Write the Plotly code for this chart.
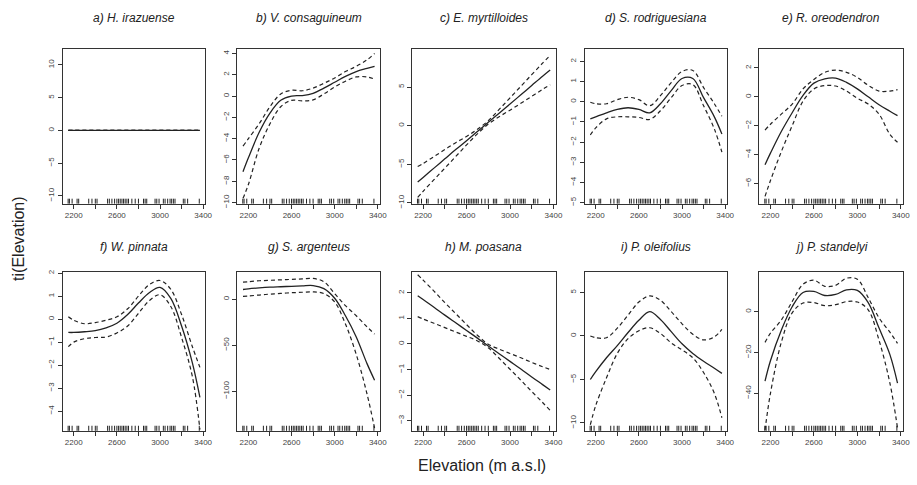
import plotly.graph_objects as go

# ---------------- data ----------------
elev = [2150, 2200, 2300, 2400, 2500, 2600, 2700, 2800, 2900, 3000, 3100, 3200, 3300, 3370]

titles = ["a) H. irazuense", "b) V. consaguineum", "c) E. myrtilloides", "d) S. rodriguesiana",
          "e) R. oreodendron", "f) W. pinnata", "g) S. argenteus", "h) M. poasana",
          "i) P. oleifolius", "j) P. standelyi"]

fit_a = [0, 0, 0, 0, 0, 0, 0, 0, 0, 0, 0, 0, 0, 0]
up_a = [0, 0, 0, 0, 0, 0, 0, 0, 0, 0, 0, 0, 0, 0]
lo_a = [0, 0, 0, 0, 0, 0, 0, 0, 0, 0, 0, 0, 0, 0]

fit_b = [-7.1, -5.8, -3.4, -1.6, -0.4, 0.0, 0.05, 0.25, 0.75, 1.3, 1.85, 2.3, 2.6, 2.8]
up_b = [-4.7, -4.0, -2.6, -1.0, 0.2, 0.55, 0.5, 0.75, 1.2, 1.7, 2.3, 2.8, 3.4, 4.0]
lo_b = [-9.6, -8.3, -4.9, -2.6, -1.0, -0.4, -0.45, -0.35, 0.2, 0.85, 1.4, 1.8, 1.8, 1.6]

fit_c = [-7.3, -6.7, -5.5, -4.3, -3.1, -1.95, -0.76, 0.43, 1.62, 2.8, 4.0, 5.2, 6.4, 7.2]
up_c = [-5.3, -4.9, -4.0, -3.1, -2.2, -1.4, -0.46, 0.65, 2.1, 3.6, 5.1, 6.6, 8.1, 9.1]
lo_c = [-9.3, -8.5, -7.0, -5.5, -4.0, -2.5, -1.06, 0.21, 1.16, 2.0, 2.9, 3.8, 4.7, 5.3]

fit_d = [-0.85, -0.75, -0.55, -0.38, -0.3, -0.38, -0.55, -0.1, 0.55, 1.15, 1.15, 0.2, -0.75, -1.6]
up_d = [-0.03, -0.1, -0.1, 0.1, 0.22, 0.1, -0.2, 0.3, 0.95, 1.5, 1.55, 0.7, -0.1, -0.72]
lo_d = [-1.65, -1.3, -0.85, -0.75, -0.75, -0.78, -0.88, -0.45, 0.2, 0.8, 0.85, -0.2, -1.35, -2.5]

fit_e = [-4.7, -3.9, -2.4, -1.1, 0.1, 0.95, 1.25, 1.3, 1.0, 0.55, 0.0, -0.55, -1.0, -1.3]
up_e = [-2.3, -1.9, -1.2, -0.5, 0.55, 1.2, 1.7, 1.85, 1.7, 1.35, 0.8, 0.4, 0.4, 0.5]
lo_e = [-6.9, -5.8, -3.8, -2.0, -0.3, 0.55, 0.78, 0.75, 0.4, -0.1, -0.5, -1.2, -2.6, -3.15]

fit_f = [-0.58, -0.58, -0.55, -0.5, -0.38, -0.18, 0.2, 0.7, 1.15, 1.38, 0.9, -0.3, -1.9, -3.4]
up_f = [0.1, -0.05, -0.2, -0.15, -0.05, 0.1, 0.45, 1.0, 1.5, 1.68, 1.3, 0.2, -1.2, -2.1]
lo_f = [-1.2, -1.0, -0.85, -0.8, -0.78, -0.6, -0.3, 0.25, 0.8, 1.06, 0.55, -0.8, -2.5, -4.8]

fit_g = [10.5, 11.2, 12.2, 13, 13.5, 14, 14.5, 14.8, 11.5, 1, -18, -41, -70, -88]
up_g = [18.5, 19, 20, 20.5, 21, 21.5, 22, 22.5, 19, 6, -7, -18, -30, -38]
lo_g = [3, 3.5, 4.5, 5.5, 6.3, 7, 7.5, 8, 6, -3, -27, -60, -103, -140]

fit_h = [1.89, 1.74, 1.44, 1.13, 0.83, 0.53, 0.23, -0.08, -0.38, -0.68, -0.98, -1.29, -1.59, -1.8]
up_h = [2.71, 2.5, 2.07, 1.62, 1.19, 0.76, 0.34, -0.01, -0.2, -0.37, -0.54, -0.72, -0.89, -1.0]
lo_h = [1.07, 0.98, 0.81, 0.64, 0.47, 0.3, 0.12, -0.15, -0.56, -0.99, -1.42, -1.86, -2.29, -2.6]

fit_i = [-5.0, -4.1, -2.5, -1.1, 0.4, 1.8, 2.8, 1.9, 0.5, -0.9, -2.0, -2.9, -3.7, -4.3]
up_i = [0.0, -0.2, -0.2, 0.9, 2.4, 3.9, 4.6, 4.1, 2.8, 1.4, 0.2, -0.45, -0.1, 0.75]
lo_i = [-10.2, -8.0, -4.8, -2.0, -0.3, 0.6, 0.95, 0.3, -0.8, -1.6, -2.5, -4.2, -6.6, -9.4]

fit_j = [-34, -24, -9, 2.5, 9.5, 10, 8, 8.5, 10.8, 10.5, 4.5, -8, -21, -35]
up_j = [-15, -10.5, -4, 5, 13.5, 15.5, 12.5, 13, 16.5, 16, 7, -3, -10, -15.5]
lo_j = [-58, -40, -15, -0.5, 4.3, 4.5, 3, 3.5, 5, 4.8, 1, -14, -35, -57]

fits = [fit_a, fit_b, fit_c, fit_d, fit_e, fit_f, fit_g, fit_h, fit_i, fit_j]
uppers = [up_a, up_b, up_c, up_d, up_e, up_f, up_g, up_h, up_i, up_j]
lowers = [lo_a, lo_b, lo_c, lo_d, lo_e, lo_f, lo_g, lo_h, lo_i, lo_j]

yranges = [[-11.2, 12.4], [-10.1, 4.4], [-10.1, 9.9], [-5.05, 2.6], [-7.4, 3.3],
           [-4.86, 2.03], [-143, 29], [-3.4, 2.8], [-10.9, 7.3], [-58.4, 19.3]]
yticks = [[-10, -5, 0, 5, 10], [-10, -8, -6, -4, -2, 0, 2, 4], [-10, -5, 0, 5],
          [-5, -4, -3, -2, -1, 0, 1, 2], [-6, -4, -2, 0, 2], [-4, -3, -2, -1, 0, 1, 2],
          [-100, -50, 0], [-3, -2, -1, 0, 1, 2], [-10, -5, 0, 5], [-40, -20, 0]]

xtick_vals = [2200, 2400, 2600, 2800, 3000, 3200, 3400]
xtick_text = ["2200", "", "2600", "", "3000", "", "3400"]

rug = [2148, 2160, 2185, 2231, 2246, 2339, 2369, 2400, 2416, 2514, 2530, 2554, 2579, 2600,
       2616, 2631, 2647, 2662, 2677, 2693, 2708, 2739, 2770, 2800, 2847, 2862, 2877, 2954,
       2970, 2991, 3031, 3047, 3071, 3093, 3108, 3124, 3139, 3216, 3231, 3256, 3364]

# ---------------- layout ----------------
W, H = 917, 485
col_px = [(63, 207), (239, 383), (415, 560), (589, 733), (765, 910)]
row_px = [(47, 204), (274, 435)]

fig = go.Figure()
LINE = "#222222"

for k in range(10):
    r, c = divmod(k, 5)
    n = k + 1
    xa = "x" if n == 1 else f"x{n}"
    ya = "y" if n == 1 else f"y{n}"
    xl = "xaxis" if n == 1 else f"xaxis{n}"
    yl = "yaxis" if n == 1 else f"yaxis{n}"
    x0, x1 = col_px[c]
    t0, t1 = row_px[r]
    fig.add_trace(go.Scatter(x=elev, y=fits[k], mode="lines", xaxis=xa, yaxis=ya,
                             line=dict(color=LINE, width=1.3, shape="spline", smoothing=1.0),
                             showlegend=False, hoverinfo="skip"))
    for band in (uppers[k], lowers[k]):
        fig.add_trace(go.Scatter(x=elev, y=band, mode="lines", xaxis=xa, yaxis=ya,
                                 line=dict(color=LINE, width=1.2, dash="4px,3px",
                                           shape="spline", smoothing=1.0),
                                 showlegend=False, hoverinfo="skip"))
    fig.layout[xl] = dict(domain=[x0 / W, x1 / W], range=[2096, 3421], anchor=ya,
                          tickvals=xtick_vals, ticktext=xtick_text, ticks="outside",
                          ticklen=4, tickcolor="#333", showline=True, linecolor="#333",
                          linewidth=1, mirror=True, showgrid=False, zeroline=False,
                          tickfont=dict(size=8, color="#444"))
    fig.layout[yl] = dict(domain=[1 - t1 / H, 1 - t0 / H], range=yranges[k], anchor=xa,
                          tickvals=yticks[k], ticks="outside", ticklen=4, tickcolor="#333",
                          showline=True, linecolor="#333", linewidth=1, mirror=True,
                          showgrid=False, zeroline=False, tickangle=-90,
                          tickfont=dict(size=8, color="#444"))
    for xv in rug:
        fig.add_shape(type="line", xref=xa, yref=f"{ya} domain", x0=xv, x1=xv, y0=0, y1=0.032,
                      line=dict(color="#222", width=1))
    fig.add_annotation(text=f"<i>{titles[k]}</i>", xref="paper", yref="paper",
                       x=(x0 + x1) / 2 / W, y=1 - (15 if r == 0 else 248) / H,
                       showarrow=False, font=dict(size=12, color="#222"),
                       xanchor="center", yanchor="middle")

fig.add_annotation(text="Elevation (m a.s.l)", xref="paper", yref="paper", x=486 / W,
                   y=1 - 470 / H, showarrow=False, font=dict(size=16, color="#222"),
                   xanchor="center", yanchor="middle")
fig.add_annotation(text="ti(Elevation)", xref="paper", yref="paper", x=18 / W,
                   y=1 - 240 / H, showarrow=False, textangle=-90,
                   font=dict(size=16, color="#222"), xanchor="center", yanchor="middle")

fig.update_layout(width=W, height=H, margin=dict(l=0, r=0, t=0, b=0),
                  paper_bgcolor="white", plot_bgcolor="white",
                  font=dict(family="Liberation Sans, Arial, sans-serif"))

fig.write_html("out.html")
